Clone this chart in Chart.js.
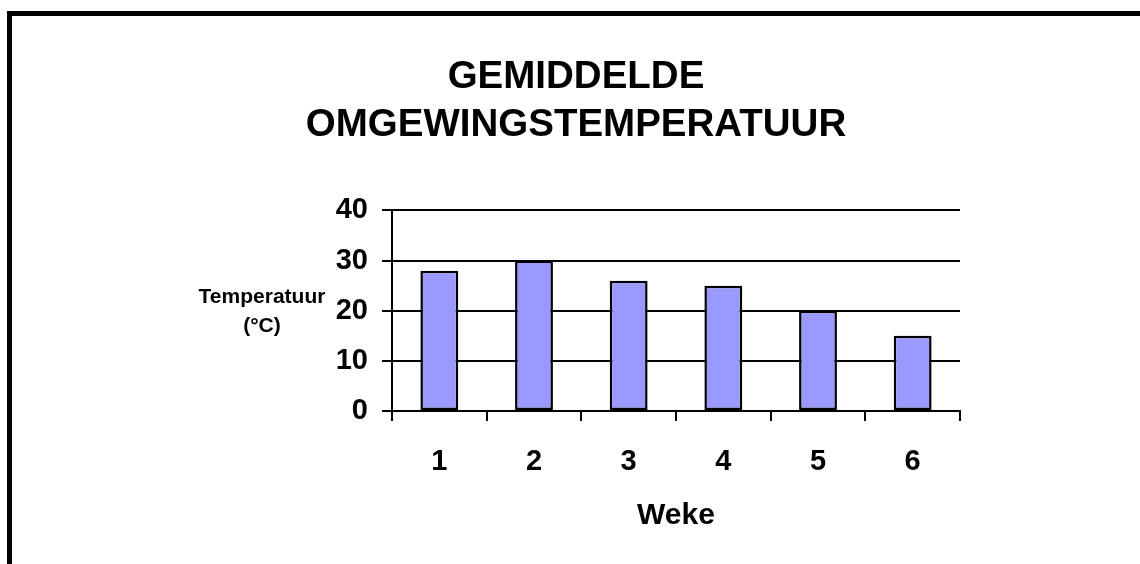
<!DOCTYPE html>
<html>
<head>
<meta charset="utf-8">
<script src="https://cdn.jsdelivr.net/npm/chart.js@4/dist/chart.umd.min.js"></script>
<style>
  body { margin: 0; background: #fff; }
  #frame {
    position: absolute; left: 7px; top: 11px;
    width: 1133px; height: 553px;
    border-left: 5px solid #000; border-top: 5px solid #000;
    box-sizing: border-box;
  }
</style>
</head>
<body>
<div id="frame"><canvas id="tempChart" width="1128" height="548"></canvas></div>
<script>
const weeks = ['1', '2', '3', '4', '5', '6'];
const temperatures = [28, 30, 26, 25, 20, 15];
const titleLines = ['GEMIDDELDE', 'OMGEWINGSTEMPERATUUR'];
const yTitleLines = ['Temperatuur', '(°C)'];
const xTitle = 'Weke';

const FONT = "Arial, 'Liberation Sans', sans-serif";
Chart.defaults.color = '#000';
Chart.defaults.font.family = FONT;

// y-axis title is horizontal in the original, so draw it by hand
const yTitlePlugin = {
    id: 'yTitle',
    afterDraw(chart) {
        const ctx = chart.ctx;
        const area = chart.chartArea;
        ctx.save();
        ctx.font = 'bold 21px ' + FONT;
        ctx.fillStyle = '#000';
        ctx.textAlign = 'center';
        ctx.textBaseline = 'middle';
        ctx.fillText(yTitleLines[0], area.left - 130, area.top + 87);
        ctx.fillText(yTitleLines[1], area.left - 130, area.top + 116);
        ctx.restore();
    }
};

const ctx = document.getElementById('tempChart').getContext('2d');
new Chart(ctx, {
    type: 'bar',
    data: {
        labels: weeks,
        datasets: [{
            data: temperatures,
            backgroundColor: '#9999FF',
            borderColor: '#000',
            borderWidth: 2.5,
            borderSkipped: false,
            barPercentage: 0.4,
            categoryPercentage: 1
        }]
    },
    options: {
        responsive: false,
        animation: false,
        layout: { padding: 0 },
        plugins: {
            legend: { display: false },
            tooltip: { enabled: false },
            title: {
                display: true,
                text: titleLines,
                font: { size: 38.5, weight: 'bold', lineHeight: 1.24 },
                padding: { top: 38, bottom: 61 }
            }
        },
        scales: {
            x: {
                afterFit: scale => { scale.height = 153; },
                grid: {
                    offset: true,
                    drawOnChartArea: false,
                    drawTicks: true,
                    tickLength: 10,
                    color: '#000',
                    lineWidth: 2
                },
                border: { display: true, color: '#000', width: 2 },
                ticks: { font: { size: 29, weight: 'bold' }, padding: 24 },
                title: {
                    display: true,
                    text: xTitle,
                    font: { size: 30, weight: 'bold' },
                    padding: { top: 0, bottom: 30 }
                }
            },
            y: {
                min: 0,
                max: 40,
                afterFit: scale => { scale.width = 380; },
                grid: {
                    drawTicks: true,
                    tickLength: 10,
                    color: '#000',
                    lineWidth: 2
                },
                border: { display: true, color: '#000', width: 2 },
                ticks: { stepSize: 10, font: { size: 29, weight: 'bold' }, padding: 14 }
            },
            // empty right axis, only keeps the plot off the right side
            yRight: {
                position: 'right',
                afterFit: scale => { scale.width = 180; },
                grid: { display: false },
                border: { display: false },
                ticks: { display: false }
            }
        }
    },
    plugins: [yTitlePlugin]
});
</script>
</body>
</html>
